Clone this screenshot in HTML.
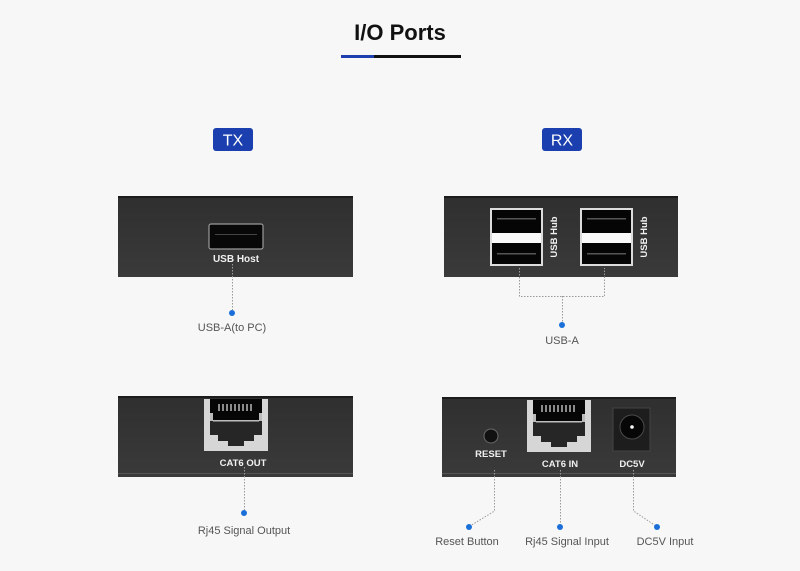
<!DOCTYPE html>
<html><head><meta charset="utf-8"><style>
html,body{margin:0;padding:0;background:#f7f7f7;}
svg{display:block;}
</style></head><body>
<svg width="800" height="571" viewBox="0 0 800 571" xmlns="http://www.w3.org/2000/svg" font-family="Liberation Sans, sans-serif">
<defs>
<linearGradient id="pg" x1="0" y1="0" x2="0" y2="1">
<stop offset="0" stop-color="#2f2f2f"/><stop offset="1" stop-color="#3a3a3a"/>
</linearGradient>
<g id="rj45">
<rect x="0" y="0" width="64" height="52" fill="#d6d6d6"/>
<polygon points="6,0 58,0 58,36 50,36 50,42 40,42 40,47 24,47 24,42 14,42 14,36 6,36" fill="#262626"/>
<rect x="6" y="0" width="52" height="21" fill="#060606"/>
<g fill="#8a8a8a">
<rect x="14" y="5" width="2" height="7"/><rect x="18" y="5" width="2" height="7"/><rect x="22" y="5" width="2" height="7"/><rect x="26" y="5" width="2" height="7"/><rect x="30" y="5" width="2" height="7"/><rect x="34" y="5" width="2" height="7"/><rect x="38" y="5" width="2" height="7"/><rect x="42" y="5" width="2" height="7"/><rect x="46" y="5" width="2" height="7"/>
</g>
<rect x="9" y="21" width="46" height="1.5" fill="#bdbdbd"/>
<rect x="6" y="14" width="3" height="8" fill="#bbb"/><rect x="55" y="14" width="3" height="8" fill="#bbb"/>
</g>
<g id="hub">
<rect x="0" y="0" width="53" height="58" fill="#dcdcdc"/>
<rect x="2" y="2" width="49" height="23" fill="#050505"/>
<rect x="2" y="35" width="49" height="21" fill="#050505"/>
<rect x="2" y="25" width="49" height="10" fill="#fafafa"/>
<rect x="7" y="10" width="39" height="1.5" fill="#555"/>
<rect x="7" y="45" width="39" height="1.5" fill="#555"/>
</g>
</defs>

<!-- Title -->
<text x="400" y="40" text-anchor="middle" font-size="22" font-weight="bold" fill="#111">I/O Ports</text>
<rect x="341" y="55" width="33" height="3" fill="#1f3fae"/>
<rect x="374" y="55" width="87" height="3" fill="#111"/>

<!-- Badges -->
<rect x="213" y="128" width="40" height="23" rx="3" fill="#1b3fae"/>
<text x="233" y="145.5" text-anchor="middle" font-size="16" fill="#fff">TX</text>
<rect x="542" y="128" width="40" height="23" rx="3" fill="#1b3fae"/>
<text x="562" y="145.5" text-anchor="middle" font-size="16" fill="#fff">RX</text>

<!-- Panels -->
<g>
<rect x="118" y="196" width="235" height="81" fill="url(#pg)"/>
<rect x="118" y="196" width="235" height="2" fill="#1c1c1c"/>
<rect x="444" y="196" width="234" height="81" fill="url(#pg)"/>
<rect x="444" y="196" width="234" height="2" fill="#1c1c1c"/>
<rect x="118" y="396" width="235" height="81" fill="url(#pg)"/>
<rect x="118" y="396" width="235" height="2" fill="#1c1c1c"/>
<rect x="118" y="473" width="235" height="1" fill="#555"/>
<rect x="442" y="397" width="234" height="80" fill="url(#pg)"/>
<rect x="442" y="397" width="234" height="2" fill="#1c1c1c"/>
<rect x="442" y="473" width="234" height="1" fill="#555"/>
</g>

<!-- TX top: USB host -->
<rect x="209" y="224" width="54" height="25" rx="2" fill="#080808" stroke="#9a9a9a" stroke-width="1.2"/>
<rect x="215" y="234" width="42" height="1" fill="#444"/>
<text x="236" y="262" text-anchor="middle" font-size="10" font-weight="bold" fill="#f0f0f0">USB Host</text>

<!-- RX top: hubs -->
<use href="#hub" x="490" y="208"/>
<use href="#hub" x="580" y="208"/>
<text transform="translate(557,237) rotate(-90)" text-anchor="middle" font-size="9.5" font-weight="bold" fill="#f0f0f0">USB Hub</text>
<text transform="translate(647,237) rotate(-90)" text-anchor="middle" font-size="9.5" font-weight="bold" fill="#f0f0f0">USB Hub</text>

<!-- TX bottom -->
<use href="#rj45" x="204" y="399"/>
<text x="243" y="466" text-anchor="middle" font-size="9.5" font-weight="bold" fill="#f0f0f0">CAT6 OUT</text>

<!-- RX bottom -->
<circle cx="491" cy="436" r="7" fill="#111" stroke="#6a6a6a" stroke-width="1"/>
<text x="491" y="457" text-anchor="middle" font-size="9.5" font-weight="bold" fill="#f0f0f0">RESET</text>
<use href="#rj45" x="527" y="400"/>
<text x="560" y="467" text-anchor="middle" font-size="9.5" font-weight="bold" fill="#f0f0f0">CAT6 IN</text>
<rect x="613" y="408" width="37" height="43" fill="#1d1d1d" stroke="#444" stroke-width="1"/>
<circle cx="632" cy="427" r="12" fill="#070707" stroke="#4a4a4a" stroke-width="1"/>
<circle cx="632" cy="427" r="1.8" fill="#fff"/>
<text x="632" y="467" text-anchor="middle" font-size="9.5" font-weight="bold" fill="#f0f0f0">DC5V</text>

<!-- Connectors -->
<g fill="none" stroke="#9a9a9a" stroke-width="1" stroke-dasharray="1.5,1.5">
<path d="M232.5 264 V310"/>
<path d="M519.5 268 V296.5 H604.5 V268"/>
<path d="M562.5 296 V322"/>
<path d="M244.5 467 V510"/>
<path d="M494.5 470 V511 L470 526"/>
<path d="M560.5 470 V524"/>
<path d="M633.5 470 V511 L656 526"/>
</g>
<g fill="#1a6fd8">
<circle cx="232" cy="313" r="3"/>
<circle cx="562" cy="325" r="3"/>
<circle cx="244" cy="513" r="3"/>
<circle cx="469" cy="527" r="3"/>
<circle cx="560" cy="527" r="3"/>
<circle cx="657" cy="527" r="3"/>
</g>

<!-- Labels -->
<g font-size="11" fill="#555" text-anchor="middle">
<text x="232" y="331">USB-A(to PC)</text>
<text x="562" y="344">USB-A</text>
<text x="244" y="534">Rj45 Signal Output</text>
<text x="467" y="545">Reset Button</text>
<text x="567" y="545">Rj45 Signal Input</text>
<text x="665" y="545">DC5V Input</text>
</g>
</svg>
</body></html>
